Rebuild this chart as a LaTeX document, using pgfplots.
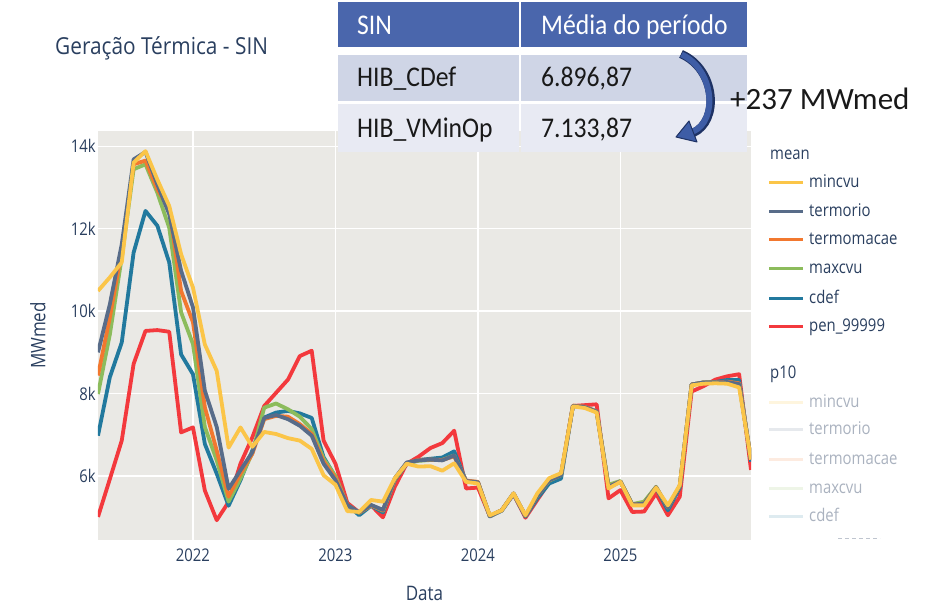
\documentclass[border=0pt]{standalone}
\usepackage{fontspec}
\setmainfont{Open Sans}
\newfontfamily\plotfont[FakeStretch=0.85]{Open Sans}
\newfontfamily\titlefont[FakeStretch=0.89]{Open Sans}
\newfontfamily\tabfont[FakeStretch=0.9]{Carlito}
\newfontfamily\notefont{Carlito}
\usepackage{pgfplots}
\pgfplotsset{compat=1.18}
\usetikzlibrary{arrows.meta}

\definecolor{fontcol}{HTML}{2A3F5F}
\definecolor{bgcol}{HTML}{EAE9E5}
\definecolor{cyel}{HTML}{FBC548}
\definecolor{cslate}{HTML}{586C89}
\definecolor{corange}{HTML}{F2782F}
\definecolor{cgreen}{HTML}{8CBC5C}
\definecolor{cblue}{HTML}{22799E}
\definecolor{cred}{HTML}{F3393D}
\definecolor{hdr}{HTML}{4A66AC}
\definecolor{rowa}{HTML}{CFD5E6}
\definecolor{rowb}{HTML}{E8EAF3}
\definecolor{arrfill}{HTML}{3E5DA6}
\definecolor{arrline}{HTML}{1E3264}

% month index: 0 = 2021-05 ... 55 = 2025-12
\pgfplotstableread{
x y
0 10490
1 10820
2 11180
3 13600
4 13880
5 13190
6 12550
7 11380
8 10570
9 9190
10 8550
11 6690
12 7180
13 6710
14 7070
15 7020
16 6920
17 6860
18 6660
19 6020
20 5790
21 5150
22 5130
23 5420
24 5380
25 5950
26 6300
27 6230
28 6240
29 6130
30 6310
31 5860
32 5820
33 5050
34 5170
35 5580
36 5050
37 5580
38 5950
39 6070
40 7690
41 7650
42 7540
43 5700
44 5860
45 5290
46 5290
47 5720
48 5290
49 5780
50 8200
51 8240
52 8250
53 8240
54 8150
55 6400
}\mincvu

\pgfplotstableread{
x y
0 9000
1 10170
2 11620
3 13680
4 13860
5 13070
6 12350
7 10980
8 10090
9 8070
10 7190
11 5690
12 6140
13 6580
14 7410
15 7480
16 7380
17 7220
18 6980
19 6300
20 5900
21 5300
22 5120
23 5300
24 5180
25 5950
26 6330
27 6380
28 6400
29 6380
30 6500
31 5880
32 5850
33 5030
34 5170
35 5580
36 5040
37 5520
38 5900
39 6020
40 7700
41 7670
42 7560
43 5740
44 5870
45 5310
46 5330
47 5730
48 5240
49 5760
50 8220
51 8270
52 8270
53 8280
54 8230
55 6400
}\termorio

\pgfplotstableread{
x y
0 8440
1 9850
2 11460
3 13560
4 13650
5 12950
6 12470
7 10490
8 9730
9 7670
10 6620
11 5500
12 6060
13 6540
14 7380
15 7460
16 7440
17 7260
18 7020
19 6360
20 5950
21 5300
22 5110
23 5290
24 5170
25 5930
26 6320
27 6390
28 6400
29 6390
30 6480
31 5890
32 5860
33 5030
34 5170
35 5580
36 5040
37 5520
38 5900
39 6030
40 7710
41 7680
42 7560
43 5740
44 5870
45 5310
46 5330
47 5730
48 5240
49 5760
50 8220
51 8270
52 8270
53 8290
54 8250
55 6400
}\termomacae

\pgfplotstableread{
x y
0 7990
1 9440
2 11300
3 13440
4 13560
5 12870
6 12020
7 9970
8 9200
9 7190
10 6380
11 5380
12 5940
13 6560
14 7660
15 7760
16 7620
17 7440
18 7140
19 6420
20 6000
21 5300
22 5110
23 5290
24 5160
25 5920
26 6310
27 6370
28 6390
29 6390
30 6500
31 5880
32 5850
33 5030
34 5170
35 5580
36 5040
37 5520
38 5890
39 6020
40 7700
41 7670
42 7560
43 5790
44 5880
45 5320
46 5380
47 5740
48 5240
49 5760
50 8220
51 8270
52 8270
53 8280
54 8240
55 6400
}\maxcvu

\pgfplotstableread{
x y
0 6980
1 8400
2 9240
3 11420
4 12430
5 12070
6 11180
7 8950
8 8470
9 6780
10 6060
11 5280
12 5900
13 6620
14 7420
15 7540
16 7580
17 7520
18 7410
19 6460
20 5980
21 5300
22 5050
23 5280
24 5120
25 5900
26 6300
27 6390
28 6420
29 6450
30 6600
31 5880
32 5840
33 5020
34 5160
35 5560
36 5020
37 5460
38 5820
39 5940
40 7700
41 7680
42 7570
43 5730
44 5860
45 5300
46 5320
47 5720
48 5170
49 5720
50 8220
51 8270
52 8280
53 8330
54 8330
55 6350
}\cdef

\pgfplotstableread{
x y
0 5010
1 5930
2 6860
3 8720
4 9520
5 9540
6 9500
7 7060
8 7180
9 5650
10 4930
11 5370
12 6300
13 6940
14 7700
15 8020
16 8340
17 8910
18 9040
19 6860
20 6300
21 5350
22 5120
23 5290
24 5000
25 5740
26 6300
27 6470
28 6680
29 6800
30 7100
31 5700
32 5720
33 5030
34 5170
35 5560
36 4990
37 5420
38 5850
39 6020
40 7700
41 7720
42 7740
43 5460
44 5660
45 5130
46 5140
47 5580
48 5050
49 5500
50 8050
51 8180
52 8340
53 8420
54 8470
55 6150
}\pen

\begin{document}
\begin{tikzpicture}
\useasboundingbox (0,0) rectangle (943pt,607pt);

\begin{axis}[
  at={(98pt,67pt)}, anchor=south west,
  scale only axis, width=653pt, height=409pt,
  xmin=0, xmax=55, ymin=4450, ymax=14368,
  axis background/.style={fill=bgcol},
  axis line style={draw=none},
  tick style={draw=none},
  grid=major,
  major grid style={white, line width=1.3pt},
  xtick={8,20,32,44},
  xticklabels={2022,2023,2024,2025},
  ytick={6000,8000,10000,12000,14000},
  yticklabels={6k,8k,10k,12k,14k},
  scaled y ticks=false,
  scaled x ticks=false,
  /pgf/number format/assume math mode=true,
  ticklabel style={font=\plotfont\fontsize{17.5}{19}\selectfont, text=fontcol},
  xticklabel style={anchor=north, inner sep=0pt, yshift=-9pt},
  yticklabel style={anchor=east, inner sep=0pt, xshift=-2pt},
  xlabel={Data},
  ylabel={MWmed},
  label style={font=\plotfont\fontsize{20}{22}\selectfont, text=fontcol},
  xlabel style={at={(axis description cs:0.5,-0.13)}, anchor=center},
  ylabel style={at={(axis description cs:-0.092,0.5)}, anchor=center},
  every axis plot/.append style={line width=3.8pt, line join=round, no markers},
]
\addplot[cred] table[x=x,y=y] {\pen};
\addplot[cblue] table[x=x,y=y] {\cdef};
\addplot[cgreen] table[x=x,y=y] {\maxcvu};
\addplot[corange] table[x=x,y=y] {\termomacae};
\addplot[cslate] table[x=x,y=y] {\termorio};
\addplot[cyel] table[x=x,y=y] {\mincvu};
\end{axis}

% title
\node[anchor=base west, inner sep=0pt, text=fontcol, font=\titlefont\fontsize{23.4}{26}\selectfont] at (55pt,552pt) {Geração Térmica - SIN};

% table
\fill[hdr] (337.5pt,560pt) rectangle (519pt,605.3pt);
\fill[hdr] (521.3pt,560pt) rectangle (747pt,605.3pt);
\fill[rowa] (337.5pt,506pt) rectangle (519pt,552pt);
\fill[rowa] (521.3pt,506pt) rectangle (747pt,552pt);
\fill[rowb] (337.5pt,455pt) rectangle (519pt,503pt);
\fill[rowb] (521.3pt,455pt) rectangle (747pt,503pt);
\begin{scope}[every node/.style={anchor=base west, inner sep=0pt, font=\tabfont\fontsize{28.5}{30}\selectfont}]
\node[text=white] at (357pt,572pt) {SIN};
\node[text=white] at (541pt,572pt) {Média do período};
\node[text=black!90] at (357pt,520.3pt) {HIB\_CDef};
\node[text=black!90] at (541pt,520.3pt) {6.896,87};
\node[text=black!90] at (357pt,469.7pt) {HIB\_VMinOp};
\node[text=black!90] at (541pt,469.7pt) {7.133,87};
\end{scope}

% curved arrow
\draw[arrline, line width=8.5pt, line cap=butt] (681pt,553pt) .. controls (716pt,538pt) and (720pt,486pt) .. (693pt,474pt);
\draw[arrfill, line width=6pt, line cap=butt] (681.5pt,552.5pt) .. controls (714.5pt,537.5pt) and (718pt,486pt) .. (693pt,475.5pt);
\filldraw[fill=arrfill, draw=arrline, line width=1pt, line join=round] (676pt,470pt) -- (689pt,486pt) -- (697pt,465pt) -- cycle;
\node[anchor=base west, inner sep=0pt, text=black!90, font=\notefont\fontsize{31}{33}\selectfont] at (730pt,497pt) {+237 MWmed};

% legend
\begin{scope}[every node/.style={anchor=base west, inner sep=0pt, font=\plotfont\fontsize{17.5}{19}\selectfont, text=fontcol}]
\node at (770pt,447pt) {mean};
\draw[cyel, line width=3pt] (769pt,424.3pt) -- (803pt,424.3pt); \node at (809pt,419.3pt) {mincvu};
\draw[cslate, line width=3pt] (769pt,395.3pt) -- (803pt,395.3pt); \node at (809pt,390.3pt) {termorio};
\draw[corange, line width=3pt] (769pt,367pt) -- (803pt,367pt); \node at (809pt,362pt) {termomacae};
\draw[cgreen, line width=3pt] (769pt,338.7pt) -- (803pt,338.7pt); \node at (809pt,333.7pt) {maxcvu};
\draw[cblue, line width=3pt] (769pt,308.7pt) -- (803pt,308.7pt); \node at (809pt,303.7pt) {cdef};
\draw[cred, line width=3pt] (769pt,280.3pt) -- (803pt,280.3pt); \node at (809pt,275.3pt) {pen\_99999};
\node at (770pt,228.7pt) {p10};
\draw[cyel!18, line width=3pt] (769pt,204.3pt) -- (803pt,204.3pt); \node[text=fontcol!40] at (809pt,199.3pt) {mincvu};
\draw[cslate!15, line width=3pt] (769pt,177pt) -- (803pt,177pt); \node[text=fontcol!40] at (809pt,172pt) {termorio};
\draw[corange!15, line width=3pt] (769pt,147.7pt) -- (803pt,147.7pt); \node[text=fontcol!40] at (809pt,142.7pt) {termomacae};
\draw[cgreen!15, line width=3pt] (769pt,118.7pt) -- (803pt,118.7pt); \node[text=fontcol!40] at (809pt,113.7pt) {maxcvu};
\draw[cblue!15, line width=3pt] (769pt,90.3pt) -- (803pt,90.3pt); \node[text=fontcol!40] at (809pt,85.3pt) {cdef};
\draw[fontcol!30, line width=1pt, dash pattern=on 4pt off 3pt] (838pt,68pt) -- (880pt,68pt);
\end{scope}
\end{tikzpicture}
\end{document}
